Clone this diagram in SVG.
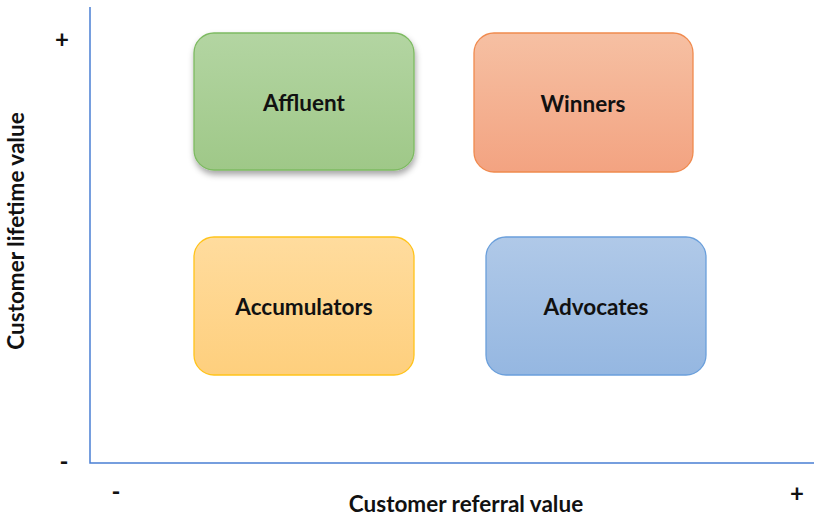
<svg xmlns="http://www.w3.org/2000/svg" width="814" height="517" viewBox="0 0 814 517">
  <style>
    .lbl { font-family: Lato, "Open Sans", "Liberation Sans", sans-serif; font-weight: bold; font-size: 22.5px; fill: #111; text-anchor: middle; }
    .sign { font-size: 24px; }
    .axis { stroke: #4a7fd4; stroke-width: 1.5; fill: none; }
    .box { stroke-width: 1.3; }
  </style>
  <defs>
    <linearGradient id="gGreen" x1="0" y1="0" x2="0" y2="1">
      <stop offset="0" stop-color="#b3d5a2"/>
      <stop offset="1" stop-color="#9fc888"/>
    </linearGradient>
    <linearGradient id="gOrange" x1="0" y1="0" x2="0" y2="1">
      <stop offset="0" stop-color="#f6c0a3"/>
      <stop offset="1" stop-color="#f3a381"/>
    </linearGradient>
    <linearGradient id="gYellow" x1="0" y1="0" x2="0" y2="1">
      <stop offset="0" stop-color="#ffdc9e"/>
      <stop offset="1" stop-color="#fecf7d"/>
    </linearGradient>
    <linearGradient id="gBlue" x1="0" y1="0" x2="0" y2="1">
      <stop offset="0" stop-color="#b0c9e8"/>
      <stop offset="1" stop-color="#95b7e1"/>
    </linearGradient>
    <filter id="shadow" x="-10%" y="-10%" width="125%" height="130%">
      <feDropShadow dx="1" dy="4" stdDeviation="3" flood-color="#000" flood-opacity="0.35"/>
    </filter>
  </defs>

  <!-- axes -->
  <g id="axes">
    <path class="axis" d="M90,7 V463 H814"/>
  </g>

  <!-- axis labels -->
  <g id="axis-labels">
    <text class="lbl sign" x="62" y="48">+</text>
    <text class="lbl sign" x="64" y="470">-</text>
    <text class="lbl sign" x="116" y="500">-</text>
    <text class="lbl sign" x="797" y="502">+</text>
    <text class="lbl" x="466" y="512">Customer referral value</text>
    <text class="lbl" transform="translate(24,231) rotate(-90)">Customer lifetime value</text>
  </g>

  <g id="affluent">
    <rect class="box" x="194" y="33" width="220" height="137" rx="20" fill="url(#gGreen)" stroke="#7dba61" filter="url(#shadow)"/>
    <text class="lbl" x="304" y="111">Affluent</text>
  </g>

  <g id="winners">
    <rect class="box" x="474" y="33" width="219" height="139" rx="20" fill="url(#gOrange)" stroke="#f08a4e"/>
    <text class="lbl" x="583" y="112">Winners</text>
  </g>

  <g id="accumulators">
    <rect class="box" x="194" y="237" width="220" height="138" rx="20" fill="url(#gYellow)" stroke="#ffc31a"/>
    <text class="lbl" x="304" y="315">Accumulators</text>
  </g>

  <g id="advocates">
    <rect class="box" x="486" y="237" width="220" height="138" rx="20" fill="url(#gBlue)" stroke="#6a9fdb"/>
    <text class="lbl" x="596" y="315">Advocates</text>
  </g>

  <g id="connectors"></g>
</svg>
